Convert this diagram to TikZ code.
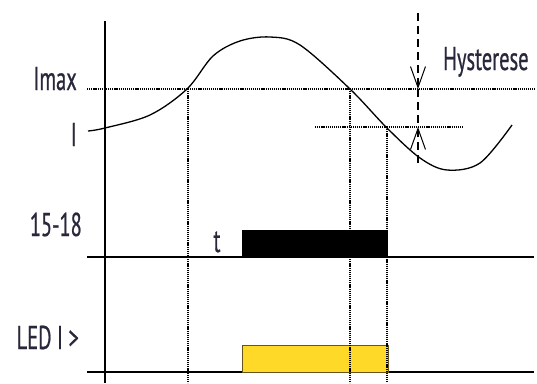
\documentclass[tikz,border=0pt]{standalone}
\usepackage{fontspec}
\setmainfont{PT Sans}[FakeStretch=0.62, FakeBold=0.6]
\usetikzlibrary{arrows.meta}
\definecolor{labelblue}{RGB}{40,40,60}
\definecolor{ledyellow}{RGB}{255,217,40}
\definecolor{ledframe}{RGB}{100,85,30}

\begin{document}
\begin{tikzpicture}[x=1pt, y=-1pt,
    lbl/.style={font=\fontsize{33}{36}\selectfont, text=labelblue, inner sep=0pt},
    dotline/.style={line width=1.4pt, dash pattern=on 1.2pt off 0.9pt},
    sig/.style={line width=1.5pt},
    hyst/.style={line width=1.8pt, dash pattern=on 8pt off 5pt},
    barb/.style={-{Straight Barb[length=21pt, width=15pt, line width=1pt]}}]

    \useasboundingbox (0,0) rectangle (537,383);

    % Beschriftung
    \node[lbl, anchor=base east] (imax) at (77,90) {Imax};
    \node[lbl, anchor=base east] (ival) at (77,146) {I};
    \node[lbl, anchor=base east] (relay) at (82,236) {15-18};
    \node[lbl, anchor=base east] (led) at (79,349) {LED I >};
    \node[lbl, anchor=base] (tdelay) at (217,252) {t};
    \node[lbl, anchor=base west] (hysttext) at (443,70) {Hysterese};

    % Punkte
    \coordinate (axtop) at (105,21);
    \coordinate (axbot) at (105,383);
    \coordinate (imaxL) at (87,89);
    \coordinate (imaxR) at (535,89);
    \coordinate (iL) at (315,127);
    \coordinate (iR) at (463,127);
    \coordinate (relayL) at (87,257);
    \coordinate (relayR) at (534,257);
    \coordinate (ledL) at (87,372);
    \coordinate (ledR) at (534,372);
    \coordinate (hystTop) at (418,13);
    \coordinate (hystA) at (418,89);
    \coordinate (hystB) at (418,127);
    \coordinate (hystBot) at (418,163);

    % Achse
    \draw[sig] (axtop) -- (axbot);

    % Strom
    \draw[
        line width=1.3pt
    ] plot[smooth, tension=0.55] coordinates {
        (88,131) (105,128) (150,115) (187,89) (213,56) (240,41) (270,37)
        (300,45) (350,89) (387,128) (420,158) (447,170) (480,163) (512,125)};

    % Grenzwerte
    \draw[dotline] (imaxL) -- (imaxR);
    \draw[dotline] (iL) -- (iR);

    % Relais und LED
    \draw[sig] (relayL) -- (relayR);
    \fill[black] (242,230) rectangle (388,257);
    \draw[sig] (ledL) -- (ledR);
    \draw[
        fill=ledyellow,
        draw=ledframe,
        line width=1pt
    ] (242,345) rectangle (388,372);

    % Zeitpunkte
    \draw[dotline] (188,89) -- (188,383);
    \draw[dotline] (350,89) -- (350,383);
    \draw[dotline] (387,127) -- (387,383);

    % Hysterese
    \draw[hyst, barb] (hystTop) -- (hystA);
    \draw[hyst] (hystA) -- (hystB);
    \draw[hyst, barb] (hystBot) -- (hystB);

\end{tikzpicture}
\end{document}
